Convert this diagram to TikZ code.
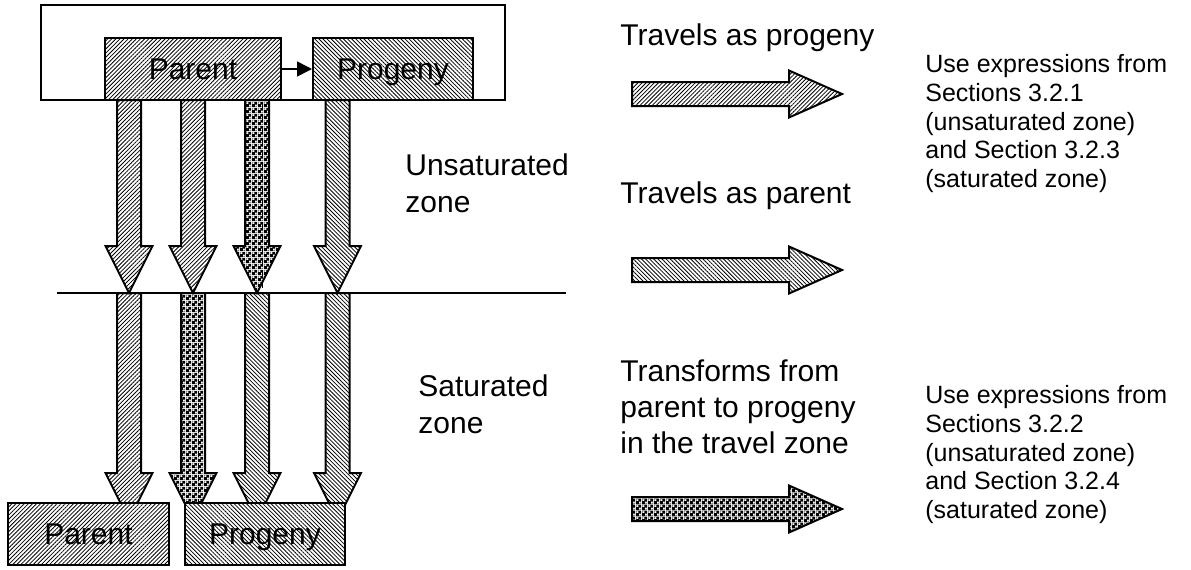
\documentclass[tikz,border=0pt]{standalone}
\usepackage{fontspec}
\setmainfont{Liberation Sans}
\usetikzlibrary{patterns,patterns.meta,arrows.meta}

% dark checker fill for the transforming pathway: black tile with two white squares
\pgfdeclarepatternformonly{fine checker}{\pgfpointorigin}{\pgfqpoint{3pt}{3pt}}{\pgfqpoint{3pt}{3pt}}{%
  \pgfseteorule
  \pgfpathrectangle{\pgfpointorigin}{\pgfqpoint{3pt}{3pt}}%
  \pgfpathrectangle{\pgfqpoint{0.15pt}{1.65pt}}{\pgfqpoint{1.2pt}{1.2pt}}%
  \pgfpathrectangle{\pgfqpoint{1.65pt}{0.15pt}}{\pgfqpoint{1.2pt}{1.2pt}}%
  \pgfusepath{fill}}

\tikzset{
  hatchA/.style={pattern={Lines[angle=45,distance=1.45pt,line width=0.4pt]}},
  hatchB/.style={pattern={Lines[angle=-45,distance=1.45pt,line width=0.4pt]}},
  checker/.style={pattern=fine checker},
  blockline/.style={draw=black, line width=1pt, line join=miter},
  boxnode/.style={blockline, preaction={fill=white}, minimum height=31pt,
    inner sep=0pt, text height=10.7pt, text depth=0pt, font=\fontsize{15}{18}\selectfont},
  bigtxt/.style={anchor=base west, inner sep=0pt, font=\fontsize{15}{18}\selectfont},
  smalltxt/.style={anchor=base west, inner sep=0pt, font=\fontsize{12.5}{14}\selectfont},
}

% downward block arrow: style, centre x, top y, head start y, tip y
\newcommand\downblock[5]{%
  \draw[blockline,#1] ({#2-12},#3) -- ({#2+12},#3) -- ({#2+12},#4) -- ({#2+23.5},#4)
    -- (#2,#5) -- ({#2-23.5},#4) -- ({#2-12},#4) -- cycle;}
% rightward block arrow: style, centre y
\newcommand\rightblock[2]{%
  \draw[blockline,#1] (632,{#2-12}) -- (789,{#2-12}) -- (789,{#2-23.5}) -- (842,#2)
    -- (789,{#2+23.5}) -- (789,{#2+12}) -- (632,{#2+12}) -- cycle;}

\begin{document}
\begin{tikzpicture}[x=0.5pt, y=-0.5pt]
\useasboundingbox (0,0) rectangle (1191,569);

% source compartment
\draw[line width=1pt] (41,5) rectangle (505,100);

% pathways through the unsaturated zone
\downblock{hatchA}{129}{100}{246}{293}
\downblock{hatchA}{193}{100}{246}{293}
\downblock{checker}{257}{100}{246}{293}
\downblock{hatchB}{337.5}{100}{246}{293}
\draw[line width=0.4pt, dashed] (262,102) -- (262,290);

% water table
\draw[line width=1pt] (57,293) -- (566,293);

% pathways through the saturated zone
\downblock{hatchA}{129}{293}{473}{520}
\downblock{checker}{193}{293}{473}{520}
\downblock{hatchB}{257}{293}{473}{520}
\downblock{hatchB}{337.5}{293}{473}{520}
\draw[line width=0.4pt, dashed] (198,295) -- (198,512);

% species boxes at the source
\node[boxnode, hatchA, minimum width=88pt] (tparent) at (193,69) {Parent};
\node[boxnode, hatchB, minimum width=80pt] (tprogeny) at (393,69) {Progeny};
\draw[line width=0.8pt, -{Triangle[length=7.5pt,width=7.5pt]}] (tparent.east) -- (tprogeny.west);

% species boxes at the receptor
\node[boxnode, hatchA, minimum width=80.5pt] (bparent) at (88.5,534) {Parent};
\node[boxnode, hatchB, minimum width=80pt] (bprogeny) at (265,534) {Progeny};

% zone labels
\node[bigtxt] (u1) at (405,175) {Unsaturated};
\node[bigtxt] (u2) at (405,212) {zone};
\node[bigtxt] (s1) at (418,396) {Saturated};
\node[bigtxt] (s2) at (418,433) {zone};

% legend
\node[bigtxt] (l1) at (620,45) {Travels as progeny};
\rightblock{hatchA}{94}
\node[bigtxt] (l2) at (620,203) {Travels as parent};
\rightblock{hatchB}{270}
\node[bigtxt] (l3a) at (620,381) {Transforms from};
\node[bigtxt] (l3b) at (620,417) {parent to progeny};
\node[bigtxt] (l3c) at (620,453) {in the travel zone};
\rightblock{checker}{509}

% notes on expressions
\node[smalltxt] (n1a) at (925,72) {Use expressions from};
\node[smalltxt] (n1b) at (925,101) {Sections 3.2.1};
\node[smalltxt] (n1c) at (925,130) {(unsaturated zone)};
\node[smalltxt] (n1d) at (925,158) {and Section 3.2.3};
\node[smalltxt] (n1e) at (925,187) {(saturated zone)};
\node[smalltxt] (n2a) at (925,403) {Use expressions from};
\node[smalltxt] (n2b) at (925,432) {Sections 3.2.2};
\node[smalltxt] (n2c) at (925,461) {(unsaturated zone)};
\node[smalltxt] (n2d) at (925,489) {and Section 3.2.4};
\node[smalltxt] (n2e) at (925,518) {(saturated zone)};
\end{tikzpicture}
\end{document}
